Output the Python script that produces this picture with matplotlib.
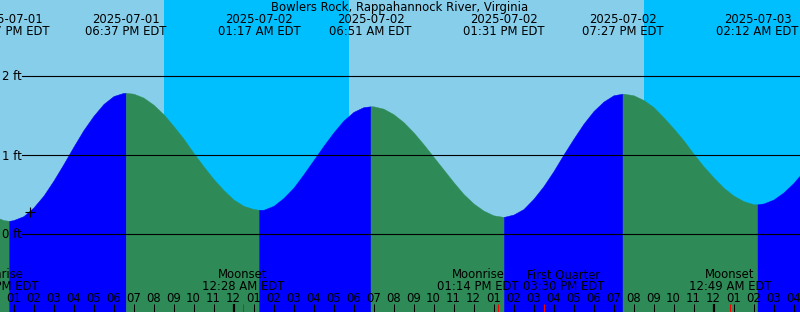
import matplotlib
matplotlib.use('Agg')
import matplotlib.pyplot as plt
import numpy as np
from matplotlib.transforms import blended_transform_factory

# time axis: hours since 2025-07-01 00:00 EDT, water level read every half hour
sample_hours = np.arange(12.0, 53.01, 0.5)
sample_ft = [0.22, 0.17, 0.17, 0.22, 0.33, 0.48, 0.67, 0.88, 1.10, 1.31, 1.49, 1.64, 1.74, 1.78,  # 12.0-18.5
             1.77, 1.72, 1.63, 1.51, 1.36, 1.20, 1.02, 0.85, 0.69, 0.55, 0.43, 0.35, 0.31, 0.30,  # 19.0-25.5
             0.35, 0.45, 0.58, 0.75, 0.93, 1.11, 1.28, 1.43, 1.54, 1.60,                          # 26.0-30.5
             1.61, 1.58, 1.51, 1.41, 1.28, 1.13, 0.97, 0.81, 0.65, 0.50, 0.38, 0.29, 0.23, 0.21,  # 31.0-37.5
             0.24, 0.31, 0.44, 0.60, 0.79, 1.00, 1.20, 1.39, 1.55, 1.67, 1.75, 1.77,              # 38.0-43.5
             1.75, 1.69, 1.60, 1.47, 1.33, 1.18, 1.01, 0.85, 0.71, 0.58, 0.48, 0.41, 0.37, 0.38,  # 44.0-50.5
             0.43, 0.52, 0.64, 0.79, 0.95]                                                        # 51.0-53.0

# tide extremes
extreme_hours = [12.783, 18.617, 25.283, 30.85, 37.517, 43.45, 50.2]
extreme_ft = [0.16, 1.78, 0.30, 1.61, 0.21, 1.77, 0.37]
extreme_kind = ['Low', 'High', 'Low', 'High', 'Low', 'High', 'Low']
extreme_date = ['2025-07-01', '2025-07-01', '2025-07-02', '2025-07-02',
                '2025-07-02', '2025-07-02', '2025-07-03']
extreme_clock = ['12:47 PM EDT', '06:37 PM EDT', '01:17 AM EDT', '06:51 AM EDT',
                 '01:31 PM EDT', '07:27 PM EDT', '02:12 AM EDT']

# sun: night intervals (sunset -> sunrise)
night_start = [20.5, 44.5]
night_end = [29.75, 53.77]

# moon events
moon_hours = [12.2, 24.467, 37.233, 39.5, 48.817]
moon_name = ['Moonrise', 'Moonset', 'Moonrise', 'First Quarter', 'Moonset']
moon_clock = ['12:12 PM EDT', '12:28 AM EDT', '01:14 PM EDT', '03:30 PM EDT', '12:49 AM EDT']

now_hour, now_ft = 13.8, 0.27

# colours
DAY = '#87CEEB'
NIGHT = '#00BFFF'
RISING = '#0000FF'
FALLING = '#2E8B57'

W, H = 800, 312
fig = plt.figure(figsize=(W / 100, H / 100), dpi=100)
fig.patch.set_facecolor(DAY)
ax = fig.add_axes([0, 0, 1, 1])
ax.set_axis_off()

x_left = 12.325                      # 20 px per hour
x_right = x_left + W / 20
y_top = 233.5 / 79                   # 79 px per foot
y_bot = (233.5 - H) / 79


def py(row):
    # pixel row from top -> axes fraction
    return 1 - row / H


tr = blended_transform_factory(ax.transData, ax.transAxes)
FS = 8.4

for a, b in zip(night_start, night_end):
    ax.axvspan(a, b, color=NIGHT, lw=0, zorder=1)

# tide curve, split at extremes into rising / falling parts
t = np.concatenate([sample_hours, extreme_hours])
v = np.concatenate([sample_ft, extreme_ft])
order = np.argsort(t)
t, v = t[order], v[order]

bounds = [t[0]] + extreme_hours + [t[-1]]
for i in range(len(bounds) - 1):
    a, b = bounds[i], bounds[i + 1]
    if i < len(extreme_kind):
        col = FALLING if extreme_kind[i] == 'Low' else RISING
    else:
        col = RISING if extreme_kind[-1] == 'Low' else FALLING
    m = (t >= a) & (t <= b)
    ax.fill_between(t[m], v[m], y_bot - 1, color=col, lw=0.3, zorder=2)

# level lines
for lvl in [0, 1, 2]:
    ax.axhline(lvl, xmin=22 / W, xmax=1, color='black', lw=0.8, zorder=3)
    ax.text(2 / W, lvl, f'{lvl} ft', transform=ax.get_yaxis_transform(), fontsize=FS,
            ha='left', va='center_baseline', zorder=5)

ax.plot([now_hour], [now_ft], marker='+', ms=7, mew=0.8, color='black', zorder=4)

# top labels
ax.text(0.5, py(10.7), 'Bowlers Rock, Rappahannock River, Virginia', transform=ax.transAxes,
        fontsize=FS, ha='center', va='baseline', zorder=5)
for h, d, c in zip(extreme_hours, extreme_date, extreme_clock):
    ax.text(h, py(23), d, transform=tr, fontsize=FS, ha='center', va='baseline', zorder=5)
    ax.text(h, py(35), c, transform=tr, fontsize=FS, ha='center', va='baseline', zorder=5)

# hour ticks and labels
hours = np.arange(13, 53)
for h in hours:
    lab = f'{(h - 1) % 12 + 1:02d}'
    ax.text(h, py(302), lab, transform=tr, fontsize=FS, ha='center', va='baseline', zorder=5)
    ax.vlines(h, py(304), 0, transform=tr, color='black',
              lw=1.6 if h % 24 == 0 else 0.75, zorder=4)

# moon events
label_shift = [0, 0, -1.0, 1.0, 0]   # hours, to keep crowded labels apart
for h, n, c, s in zip(moon_hours, moon_name, moon_clock, label_shift):
    ax.vlines(h, py(304), 0, transform=tr, color='#FF0000', lw=0.75, zorder=4)
    ax.text(h + s, py(278), n, transform=tr, fontsize=FS, ha='center', va='baseline', zorder=5)
    ax.text(h + s, py(289.5), c, transform=tr, fontsize=FS, ha='center', va='baseline', zorder=5)

ax.set_xlim(x_left, x_right)
ax.set_ylim(y_bot, y_top)

fig.savefig('out.png', dpi=100, facecolor=DAY)
plt.close(fig)
